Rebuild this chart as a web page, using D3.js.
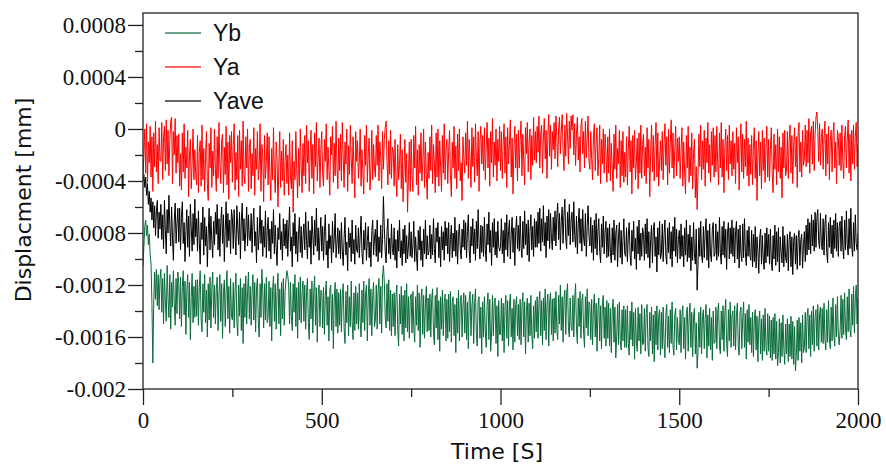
<!DOCTYPE html>
<html>
<head>
<meta charset="utf-8">
<script src="https://cdn.jsdelivr.net/npm/d3@7"></script>
<style>
  body { margin: 0; background: #fff; }
  svg { display: block; }
  .axisTitle { font-family: "DejaVu Sans", sans-serif; font-size: 22px; fill: #111; }
  .legend text { font-family: "Liberation Sans", Arial, sans-serif; font-size: 23px; fill: #111; }
</style>
</head>
<body>
<svg id="chart" width="886" height="466"></svg>
<script>
/* ==== Data (displacement in units of 1e-4 mm, one sample every 2.5 s, 50 s per row) ==== */
const T_STEP = 2.5;
const UNIT = 1e-4;

const ya = [
  -3.8, -1.9, 0.0, -3.4, 0.4, -4.1, -1.0, -2.6, 0.2, -3.7, -0.6, -4.8, -0.3, -2.9, 0.6, -3.3, -1.2, -4.2, 0.1, -2.4,
  -2.5, 0.5, -3.9, -0.6, 0.2, -3.2, 0.7, -2.7, -0.1, -3.6, -0.9, 0.6, 0.9, -4.2, -0.2, -2.0, 0.8, -3.4, -0.5, -2.6,
  -0.4, -4.4, -1.9, -4.7, -0.3, -3.3, 0.4, -3.8, -1.4, -3.0, -0.1, -5.2, -2.0, -0.8, -4.6, -2.6, 0.0, -3.9, -1.6, -3.5,
  -4.3, -0.5, -4.9, -1.8, -0.9, -4.4, 0.3, -3.9, -1.5, -4.8, -2.1, -0.2, -4.2, -5.5, -1.1, -3.0, 0.1, -4.5, -1.7, -3.6,
  0.0, -3.1, -4.8, -0.6, -3.8, 0.5, -2.7, -4.2, -0.9, -0.4, -4.9, -1.4, -3.5, 0.2, -4.3, -1.0, -5.4, -0.5, -2.6, -0.2,
  -4.1, -1.2, 0.4, -4.7, -1.8, -3.9, -0.5, -5.2, -0.1, -3.1, -0.9, -4.4, 0.6, -3.5, -4.2, -0.6, -3.0, 0.0, -4.8, -1.4,
  -0.8, -4.6, -1.9, -3.6, 0.1, -5.1, -1.5, -3.1, -0.2, -3.9, -3.0, 0.4, -4.8, -1.2, -2.0, -5.6, -0.5, -3.8, -2.6, -0.3,
  -4.3, -0.6, -3.5, -5.5, -1.5, -3.9, 0.1, -3.5, -4.9, -1.0, -2.3, -6.0, -2.8, -0.2, -4.5, -1.7, -4.0, -0.8, -5.1, -2.4,
  -1.2, -4.2, -2.0, -5.1, -0.3, -3.6, -4.6, -0.9, -6.4, -2.5, -3.9, -0.2, -3.1, -5.3, -1.5, -4.4, 0.0, -2.9, -4.9, -1.1,
  -3.6, -0.5, -4.2, 0.3, -2.6, -0.9, -4.8, -1.9, -0.1, -3.8, -1.2, -5.0, -0.3, -2.9, 0.5, -4.0, -2.2, -0.7, -4.5, -1.6,
  -0.2, -3.5, -4.4, -0.8, -2.5, 0.4, -3.9, -1.4, -3.1, -5.1, -0.6, -2.0, 0.2, -4.1, -1.1, -3.6, 0.6, -2.8, -4.6, -0.7,
  -3.2, -0.4, -4.0, 0.5, -2.1, -4.5, -1.0, -2.7, 0.0, -4.8, -1.3, -3.5, 0.3, -2.3, -4.2, -0.6, -2.9, -5.3, -0.2, -2.5,
  -0.9, -3.8, -2.6, 0.0, -4.4, -1.6, -3.3, -5.0, -0.5, -2.8, 0.3, -4.1, -2.0, -0.7, -4.7, -3.1, -0.1, -3.9, -1.2, -3.0,
  -3.7, -0.5, -2.8, 0.3, -4.0, -1.0, -2.2, -4.6, -0.2, -3.1, -0.8, 0.1, 0.6, -2.5, -4.3, -0.9, -3.5, -0.1, -3.8, -1.4,
  -1.7, -4.4, -0.8, -3.7, -5.2, -1.2, -3.9, -2.8, -0.4, -4.6, -1.6, -5.6, -3.2, -0.8, -4.1, -1.9, -6.4, -3.6, -1.0, -4.8,
  -0.8, -3.6, -4.8, -0.5, -3.0, 0.2, -4.3, -1.6, -5.1, -1.2, -3.4, -0.3, -4.0, -2.7, 0.0, -4.5, -1.0, -3.5, -5.4, -1.8,
  -3.8, -0.6, -3.2, 0.3, -4.2, -1.2, -2.6, -4.9, -0.3, -3.7, 0.0, -4.4, -0.9, -2.9, -4.8, -0.5, -3.4, 0.4, -3.9, -1.6,
  -0.8, -4.2, -1.7, -0.1, -3.5, -5.2, -1.0, -3.0, 0.2, -3.8, -1.3, -4.6, -0.4, -3.2, 0.0, -4.0, -2.6, -5.5, -0.6, -2.3,
  -3.4, -0.3, -2.8, 0.6, -3.8, -0.8, -2.4, -4.5, 0.1, -2.9, -0.6, -4.1, 0.4, -2.2, -3.6, -0.2, -4.8, -1.0, 0.2, -2.7,
  -0.5, -3.2, 0.1, -3.9, -1.4, 0.5, -3.0, -0.7, -4.4, -0.2, -2.6, 0.8, -3.7, -1.0, -2.8, 0.0, -4.0, -0.8, -2.5, 0.2,
  -3.2, -0.2, -3.8, -1.0, 0.4, -3.4, -0.6, -4.5, 0.1, -2.7, -1.2, 0.7, -3.7, -0.7, -5.0, -1.5, 0.2, -3.0, -0.4, -4.0,
  -0.1, -3.0, -0.8, 0.6, -3.6, -0.4, -2.5, -4.3, 0.1, -1.9, 0.5, -3.3, -1.0, 0.0, -3.9, -0.5, -2.8, 0.9, -2.4, -0.2,
  -2.6, 0.2, -1.8, 1.0, -3.0, -0.3, 0.3, -3.4, -0.7, 0.8, -2.3, -0.1, -3.8, -0.5, 1.1, -2.1, 0.3, -3.1, -0.2, -1.6,
  0.5, -2.3, 1.0, -0.5, -2.9, 0.0, 0.9, -1.9, -0.2, 1.1, -1.6, -3.2, 0.3, -2.1, 1.2, -0.4, -2.7, 0.6, -1.5, 1.0,
  -0.1, 1.1, -2.0, 0.4, -2.8, -0.4, 0.9, -2.4, -0.6, -3.3, 0.2, 0.8, -1.9, -0.2, -3.0, 0.6, -2.2, -0.7, 1.0, -2.5,
  -3.1, -0.2, -2.3, -3.9, -0.5, 0.4, -3.2, -1.0, 0.1, -3.6, -2.2, 0.3, -4.2, -0.8, -2.7, 0.0, -3.4, -0.4, -1.8, -4.1,
  -0.6, -3.4, 0.0, -4.0, -1.1, -3.0, -4.8, -0.4, -3.1, 0.3, -3.8, -1.5, -2.7, -0.1, -4.5, -0.9, -3.6, -0.2, -4.1, -1.8,
  -3.7, -0.6, -4.3, -1.6, 0.2, -3.3, -0.9, -5.0, -0.5, -3.0, -0.1, -3.9, -2.6, -0.7, -4.6, -0.3, -3.4, 0.3, -3.8, -1.2,
  -0.4, -3.6, -1.4, -4.2, 0.1, -3.0, -0.8, -5.2, -1.9, 0.3, -3.3, -0.5, -4.0, -1.2, 0.5, -3.7, -0.3, -4.4, -2.5, -0.9,
  -3.2, -0.2, -3.9, -1.1, 0.4, -2.8, -0.6, -4.3, 0.0, -3.4, -1.0, 0.7, -3.0, -0.3, -3.8, -1.6, 0.2, -3.6, -0.7, -2.5,
  -0.6, -3.8, -1.7, 0.1, -4.4, -1.0, -3.3, -5.0, -0.5, -3.0, 0.2, -4.1, -1.4, -3.6, -0.3, -4.6, -1.8, -0.8, -5.3, -2.9,
  -6.2, -3.5, -0.4, -2.9, 0.3, -3.9, -0.9, -3.1, -0.1, -4.4, -0.7, -2.6, 0.5, -3.4, -1.2, -4.1, -0.2, -2.8, 0.1, -3.7,
  -0.5, -3.3, 0.2, -2.6, -4.3, -0.3, -3.0, 0.5, -3.7, -0.8, -4.9, -1.4, 0.0, -3.2, -0.5, -3.9, 0.3, -2.7, -0.9, -3.6,
  -0.2, -3.1, -1.1, -4.2, 0.1, -2.6, -0.6, -4.7, -1.5, 0.4, -3.3, -0.4, -3.8, -0.8, -2.9, 0.6, -3.6, -0.7, -4.4, -1.2,
  -3.5, -0.5, -4.3, -1.4, 0.1, -3.8, -0.9, -5.5, -2.0, -0.2, -3.6, -1.0, -4.6, -0.1, -3.2, -0.7, -4.1, -1.6, 0.2, -3.7,
  -0.8, -4.0, -1.6, 0.1, -3.4, -4.9, -0.4, -3.1, -1.2, -4.3, 0.0, -3.3, -0.6, -3.8, -1.4, -5.3, -0.3, -3.0, -0.1, -3.6,
  -3.2, -0.2, -3.8, -0.9, 0.3, -3.4, -0.5, -4.2, -1.3, 0.1, -2.9, -0.6, -4.5, -0.3, 0.5, -3.3, -1.0, -3.7, -0.1, -2.8,
  -2.3, 0.3, -2.9, -0.1, -2.6, 0.8, -3.4, -0.3, 0.2, -2.7, 0.6, -3.2, -0.4, 0.9, 1.3, -0.1, -2.5, 0.4, -2.8, -0.6,
  0.0, -3.1, -0.7, 0.6, -3.6, -0.4, -2.7, 0.2, -3.9, -0.9, -0.1, -3.3, -0.5, 0.5, -3.0, -1.0, -4.2, -0.1, -0.6, -2.8,
  -0.3, -3.2, 0.3, -2.6, -3.8, -0.5, 0.2, -3.0, -0.8, 0.7, -3.4, -0.4, -4.0, -0.1, -2.7, 0.3, -3.1, -0.6, 0.5, -2.9,
  -1.2
];

const yave = [
  -4.0, -3.5, -4.5, -3.7, -5.1, -4.2, -5.8, -4.8, -6.4, -5.3, -7.0, -5.6, -7.6, -5.9, -8.2, -6.3, -5.5, -8.4, -6.4, -7.7,
  -5.8, -8.5, -6.6, -9.2, -5.5, -7.8, -9.6, -6.2, -8.0, -5.1, -7.5, -9.0, -6.0, -8.4, -10.1, -7.0, -5.7, -8.8, -7.3, -6.1,
  -8.7, -6.1, -9.3, -6.8, -5.6, -8.8, -7.2, -10.2, -7.9, -6.2, -9.1, -6.7, -9.8, -5.8, -7.6, -9.4, -6.5, -8.9, -5.4, -8.3,
  -6.9, -9.4, -6.3, -8.7, -10.4, -7.2, -8.5, -6.0, -9.7, -6.8, -9.0, -7.5, -10.6, -8.0, -6.1, -9.3, -6.7, -8.6, -9.9, -7.1,
  -8.9, -6.4, -8.1, -5.8, -9.3, -6.9, -9.8, -7.2, -6.0, -8.8, -6.6, -10.2, -7.8, -5.6, -9.1, -6.5, -8.6, -7.0, -9.6, -6.2,
  -6.8, -9.2, -6.2, -8.2, -9.7, -5.9, -7.6, -8.9, -6.4, -10.0, -7.1, -5.7, -8.6, -6.9, -9.4, -7.8, -6.0, -9.0, -6.6, -8.4,
  -8.6, -6.5, -9.5, -7.2, -6.1, -9.0, -7.9, -10.3, -6.8, -9.3, -8.2, -5.9, -8.8, -7.0, -9.8, -7.5, -9.1, -6.3, -9.9, -7.8,
  -6.8, -9.4, -7.7, -10.0, -7.1, -8.8, -6.2, -9.6, -7.4, -9.1, -10.5, -7.6, -8.5, -6.5, -9.3, -7.9, -10.1, -6.9, -9.0, -7.3,
  -9.2, -7.0, -9.8, -7.7, -6.0, -9.4, -8.3, -10.6, -7.2, -9.0, -6.5, -9.6, -7.9, -10.2, -8.1, -6.8, -9.5, -7.5, -9.9, -8.4,
  -7.3, -9.3, -6.4, -8.6, -10.0, -7.1, -9.1, -7.8, -10.4, -6.7, -8.2, -9.7, -7.0, -9.0, -6.1, -9.4, -7.6, -10.1, -8.3, -6.8,
  -9.4, -7.5, -10.1, -7.9, -6.6, -9.7, -8.6, -10.7, -7.3, -9.2, -8.2, -10.3, -7.1, -9.5, -8.4, -6.5, -9.9, -8.8, -7.6, -9.6,
  -7.8, -10.0, -7.2, -9.3, -10.5, -8.4, -6.8, -9.7, -8.7, -10.9, -7.6, -9.1, -8.0, -10.2, -7.0, -9.6, -8.5, -10.4, -7.4, -9.3,
  -9.5, -7.6, -9.9, -8.2, -6.7, -9.6, -10.4, -7.8, -9.3, -7.2, -10.1, -8.6, -7.5, -9.9, -8.7, -10.6, -7.9, -7.0, -9.7, -8.4,
  -7.7, -9.8, -7.0, -10.2, -8.3, -9.5, -7.4, -9.9, -8.5, -5.2, -7.6, -9.4, -10.3, -7.9, -6.9, -9.6, -8.4, -10.0, -7.3, -9.2,
  -9.7, -7.6, -10.1, -8.5, -10.7, -7.8, -9.4, -7.0, -9.9, -8.6, -10.5, -7.7, -9.6, -7.4, -10.3, -8.2, -10.0, -9.0, -7.2, -9.8,
  -7.9, -9.9, -9.0, -7.1, -10.2, -8.3, -9.7, -10.9, -7.8, -9.3, -7.5, -10.1, -8.6, -10.6, -7.7, -9.6, -7.0, -10.0, -8.2, -9.7,
  -9.4, -7.4, -10.0, -8.1, -9.7, -6.9, -9.2, -10.3, -7.6, -8.7, -7.2, -9.9, -8.3, -10.6, -7.5, -9.3, -7.9, -10.1, -7.1, -9.0,
  -7.6, -9.6, -7.2, -10.2, -8.5, -7.4, -9.9, -8.0, -9.4, -6.8, -9.8, -7.8, -10.4, -8.2, -7.3, -9.3, -10.0, -7.7, -9.1, -7.0,
  -9.3, -7.2, -9.9, -7.9, -6.6, -9.4, -10.3, -7.5, -9.0, -6.9, -9.6, -7.7, -10.1, -7.1, -9.2, -6.2, -8.8, -10.0, -7.4, -9.5,
  -7.5, -9.8, -6.8, -9.3, -10.2, -7.3, -8.9, -6.4, -9.5, -7.8, -10.5, -7.2, -9.1, -6.9, -9.7, -7.9, -9.9, -7.1, -9.0, -9.4,
  -9.1, -6.9, -9.6, -7.8, -10.3, -7.2, -9.3, -6.6, -9.8, -7.9, -7.0, -10.0, -8.1, -6.8, -9.5, -7.6, -10.5, -7.8, -6.7, -9.2,
  -7.4, -9.4, -6.7, -9.0, -9.9, -7.1, -9.2, -6.3, -8.9, -7.3, -9.7, -7.0, -10.2, -7.9, -6.6, -9.3, -7.5, -9.8, -6.9, -9.1,
  -7.1, -9.1, -6.4, -8.8, -6.1, -9.4, -6.9, -8.7, -5.9, -9.0, -7.2, -9.9, -6.7, -8.6, -6.2, -9.2, -6.5, -8.4, -9.3, -6.8,
  -8.6, -6.3, -9.0, -6.7, -5.7, -8.5, -6.5, -9.3, -7.1, -6.0, -8.8, -6.6, -5.4, -8.4, -9.2, -6.4, -8.2, -5.8, -8.9, -7.0,
  -6.4, -8.7, -5.6, -8.2, -9.1, -6.7, -9.6, -7.3, -6.1, -8.8, -6.9, -9.4, -6.2, -8.4, -9.0, -6.5, -9.8, -7.5, -5.9, -8.2,
  -9.0, -6.8, -9.5, -7.4, -10.1, -7.0, -9.2, -6.5, -9.7, -7.8, -6.9, -9.4, -10.3, -7.3, -9.1, -6.7, -9.6, -7.9, -7.1, -9.9,
  -7.6, -9.8, -7.3, -9.5, -10.3, -7.6, -9.7, -7.0, -10.1, -8.0, -7.4, -10.6, -8.3, -7.2, -9.9, -7.8, -10.4, -8.6, -6.9, -9.6,
  -9.8, -7.6, -10.2, -8.2, -7.2, -9.7, -10.5, -7.8, -9.4, -7.1, -10.0, -8.4, -10.8, -7.5, -9.6, -7.0, -10.1, -8.0, -9.8, -7.6,
  -8.1, -10.1, -7.3, -9.6, -6.9, -9.9, -7.9, -10.7, -8.5, -7.4, -10.3, -7.8, -7.2, -9.8, -8.3, -11.0, -7.6, -9.7, -7.1, -10.0,
  -9.6, -7.3, -10.2, -8.1, -7.0, -9.7, -10.4, -7.6, -9.5, -7.2, -10.0, -7.9, -10.6, -7.5, -9.4, -6.8, -9.8, -7.7, -10.3, -8.5,
  -7.8, -10.0, -7.3, -9.8, -8.2, -10.6, -7.6, -9.7, -7.0, -10.2, -8.1, -9.9, -7.4, -10.9, -8.3, -10.1, -7.2, -9.6, -10.4, -7.7,
  -12.4, -10.4, -7.6, -9.8, -7.1, -9.7, -10.3, -7.5, -9.9, -8.0, -6.9, -10.1, -7.8, -10.7, -7.3, -9.6, -10.2, -7.7, -7.2, -9.8,
  -9.6, -7.3, -10.1, -7.9, -9.8, -6.8, -9.5, -10.4, -7.5, -9.7, -7.1, -9.9, -7.7, -10.8, -8.0, -7.2, -10.0, -7.6, -9.6, -7.0,
  -9.8, -7.6, -10.3, -7.9, -7.1, -10.0, -7.7, -10.7, -7.4, -9.6, -10.2, -7.3, -9.9, -6.9, -9.5, -10.5, -7.8, -9.8, -7.5, -9.7,
  -10.1, -7.8, -10.6, -8.1, -10.2, -7.5, -10.7, -8.3, -9.4, -11.1, -8.4, -7.7, -10.4, -8.2, -10.0, -10.8, -8.0, -10.3, -7.6, -9.8,
  -8.1, -10.4, -7.7, -10.1, -10.9, -8.2, -10.0, -7.4, -10.5, -7.9, -10.2, -7.6, -11.0, -8.3, -9.5, -10.3, -7.5, -10.6, -8.2, -9.9,
  -10.3, -8.1, -10.9, -8.5, -7.9, -10.6, -8.3, -11.2, -8.6, -8.0, -10.4, -8.2, -10.8, -8.4, -7.8, -10.5, -8.5, -8.1, -10.7, -8.9,
  -7.9, -10.2, -7.4, -9.7, -6.9, -9.3, -7.2, -9.6, -6.6, -9.0, -7.0, -9.4, -6.4, -9.1, -6.8, -6.2, -8.6, -9.2, -6.5, -8.8,
  -9.3, -6.9, -9.7, -7.3, -6.6, -9.5, -10.3, -7.2, -9.1, -6.8, -9.6, -7.4, -9.9, -7.0, -9.2, -6.5, -9.4, -7.2, -9.8, -7.5,
  -7.1, -9.4, -6.7, -9.1, -10.0, -7.0, -9.3, -6.3, -8.9, -9.7, -6.9, -9.2, -6.1, -9.0, -9.8, -7.2, -9.4, -6.6, -8.8, -9.3,
  -8.0
];

const yb = [
  -10.5, -9.0, -7.5, -7.0, -8.2, -7.4, -8.9, -8.1, -9.6, -10.4, -13.5, -18.0, -13.4, -11.0, -13.1, -10.8, -13.6, -11.2, -13.9, -11.6,
  -10.8, -14.1, -11.5, -15.0, -11.1, -13.3, -14.8, -10.5, -13.0, -14.5, -11.2, -15.4, -11.8, -13.7, -10.9, -13.4, -15.1, -11.5, -14.2, -11.0,
  -11.9, -14.6, -11.4, -15.2, -12.2, -10.9, -14.3, -11.7, -15.8, -12.5, -11.2, -14.5, -11.8, -16.2, -12.9, -11.1, -14.9, -12.1, -14.5, -11.6,
  -14.4, -11.6, -15.1, -12.2, -10.9, -14.6, -15.6, -11.9, -14.1, -11.2, -14.9, -12.4, -16.0, -11.9, -14.7, -11.4, -15.3, -12.3, -11.0, -14.5,
  -12.0, -15.0, -12.3, -11.4, -15.5, -12.7, -11.2, -14.8, -11.9, -16.1, -12.6, -11.6, -15.2, -12.4, -10.9, -14.6, -12.1, -15.7, -11.5, -14.4,
  -14.7, -11.8, -15.3, -12.4, -11.1, -14.8, -15.9, -12.0, -14.4, -11.5, -15.5, -12.2, -16.5, -11.9, -14.5, -11.3, -15.0, -12.5, -11.0, -14.6,
  -12.1, -15.1, -12.6, -11.2, -14.7, -11.8, -15.6, -12.3, -11.5, -14.8, -16.0, -11.9, -14.5, -10.8, -12.4, -15.3, -11.9, -14.7, -11.4, -14.9,
  -14.5, -11.7, -15.2, -12.2, -16.3, -12.4, -11.3, -14.8, -11.9, -15.4, -12.6, -11.1, -15.0, -12.3, -15.9, -11.8, -14.6, -11.5, -15.1, -12.5,
  -11.6, -10.9, -11.3, -12.0, -15.0, -11.8, -14.4, -15.5, -11.9, -14.1, -11.2, -15.2, -12.2, -16.1, -11.8, -14.7, -11.4, -14.9, -12.6, -11.7,
  -14.8, -12.0, -15.4, -12.5, -11.5, -14.9, -16.2, -12.3, -14.6, -11.7, -15.7, -12.6, -11.3, -15.1, -12.2, -16.4, -12.8, -12.0, -15.2, -12.4,
  -12.5, -15.3, -12.2, -15.8, -12.8, -11.7, -15.1, -12.9, -16.3, -12.4, -12.0, -15.5, -12.7, -16.9, -13.0, -11.8, -15.2, -12.3, -15.7, -12.6,
  -15.1, -12.3, -15.6, -12.7, -11.9, -15.3, -16.5, -12.5, -14.9, -12.0, -15.9, -12.9, -15.2, -11.7, -14.8, -16.2, -12.6, -15.5, -12.1, -15.0,
  -12.6, -15.4, -11.9, -14.8, -16.0, -12.4, -14.9, -11.7, -15.5, -12.7, -12.0, -16.3, -12.9, -11.5, -15.1, -12.3, -15.9, -12.8, -11.8, -15.2,
  -14.7, -12.0, -15.4, -12.5, -11.5, -15.0, -12.1, -15.7, -11.3, -10.5, -11.8, -14.5, -15.3, -11.9, -14.8, -11.6, -15.5, -12.4, -15.9, -12.7,
  -15.2, -12.6, -15.9, -12.9, -12.0, -15.5, -16.7, -12.7, -15.0, -12.1, -15.8, -12.8, -16.3, -12.4, -15.3, -11.9, -15.6, -12.9, -16.1, -13.2,
  -12.7, -15.7, -12.5, -15.3, -16.4, -12.9, -15.1, -12.0, -15.5, -12.6, -16.8, -13.2, -12.3, -15.8, -12.8, -16.1, -13.4, -12.1, -15.6, -13.0,
  -15.5, -12.7, -16.0, -13.1, -12.3, -15.7, -16.6, -12.8, -15.3, -12.2, -16.2, -13.2, -17.1, -12.9, -15.4, -12.4, -15.9, -13.4, -12.7, -16.3,
  -13.1, -16.1, -12.7, -15.6, -12.5, -16.4, -13.3, -12.9, -15.9, -13.5, -17.2, -13.0, -15.7, -12.4, -16.3, -13.2, -12.8, -16.0, -13.6, -12.6,
  -15.7, -12.8, -16.2, -13.3, -16.9, -13.1, -12.5, -15.9, -13.6, -12.7, -16.5, -13.4, -12.3, -15.8, -16.7, -13.2, -12.9, -16.1, -13.7, -17.3,
  -13.3, -16.0, -12.9, -15.6, -16.8, -13.5, -12.6, -16.2, -13.1, -17.1, -15.7, -12.8, -15.9, -13.4, -13.0, -16.5, -13.6, -17.5, -13.2, -15.8,
  -15.8, -13.0, -16.3, -13.4, -17.2, -13.7, -12.8, -16.1, -13.2, -16.7, -13.6, -12.7, -16.0, -13.8, -17.0, -13.1, -16.4, -13.5, -12.9, -15.9,
  -13.5, -16.2, -13.1, -16.6, -13.7, -12.6, -16.0, -13.3, -17.3, -13.9, -13.0, -16.4, -13.4, -15.9, -12.8, -15.8, -16.9, -13.6, -16.1, -13.2,
  -15.6, -12.9, -16.1, -13.4, -12.5, -15.9, -13.2, -16.6, -13.0, -15.5, -12.3, -16.2, -13.5, -12.7, -16.7, -13.3, -12.6, -15.8, -13.1, -16.3,
  -13.0, -15.7, -12.5, -15.4, -16.2, -12.8, -15.0, -12.0, -15.5, -12.9, -16.4, -13.1, -12.4, -15.8, -12.7, -11.9, -15.3, -16.0, -13.0, -15.2,
  -15.5, -12.8, -16.0, -13.1, -11.9, -15.4, -16.5, -13.0, -15.2, -12.5, -16.1, -13.2, -12.7, -15.7, -16.8, -12.9, -15.3, -12.3, -15.9, -13.3,
  -13.5, -16.2, -13.1, -16.6, -13.8, -12.7, -16.0, -13.4, -17.1, -13.9, -13.0, -16.3, -13.6, -16.9, -13.3, -12.8, -16.1, -13.7, -16.7, -13.2,
  -16.1, -13.4, -16.7, -13.8, -17.2, -14.0, -13.1, -16.4, -13.7, -17.6, -16.0, -13.5, -16.6, -13.3, -16.2, -17.0, -13.9, -16.3, -13.6, -16.8,
  -13.9, -16.8, -13.6, -16.5, -17.4, -14.0, -16.2, -13.3, -16.7, -14.1, -17.7, -13.8, -16.4, -17.1, -13.7, -16.3, -14.2, -17.3, -13.5, -16.6,
  -16.5, -13.8, -17.1, -14.2, -13.5, -16.8, -17.5, -14.1, -16.3, -13.7, -17.3, -14.3, -17.9, -14.0, -16.6, -13.6, -17.0, -14.4, -13.9, -17.4,
  -14.1, -16.9, -13.7, -16.4, -17.6, -14.2, -13.5, -16.8, -14.4, -17.2, -13.9, -16.5, -13.3, -16.7, -17.4, -14.3, -13.8, -17.0, -14.5, -16.2,
  -16.6, -13.9, -17.2, -14.3, -13.6, -16.9, -14.5, -17.7, -14.2, -13.7, -17.1, -14.6, -13.4, -16.8, -14.1, -17.5, -14.4, -13.8, -17.3, -14.9,
  -18.4, -17.1, -14.1, -16.8, -13.7, -17.3, -14.4, -13.9, -16.9, -14.6, -13.5, -17.6, -14.3, -16.7, -13.8, -17.0, -14.5, -17.8, -14.0, -16.5,
  -16.4, -13.7, -16.9, -14.1, -13.4, -16.7, -17.3, -14.0, -16.2, -13.6, -17.1, -14.2, -13.1, -16.5, -17.5, -13.9, -16.3, -13.3, -16.8, -14.3,
  -14.0, -16.7, -13.6, -17.0, -14.3, -13.4, -16.6, -17.4, -14.1, -13.7, -16.9, -14.5, -13.3, -16.8, -14.2, -17.7, -13.9, -16.4, -13.5, -16.6,
  -14.5, -17.2, -14.1, -17.5, -14.7, -13.9, -17.0, -14.4, -17.9, -14.9, -14.0, -17.3, -14.6, -17.8, -14.3, -17.1, -13.8, -16.8, -17.4, -14.2,
  -17.1, -14.4, -17.6, -14.7, -17.8, -14.5, -17.3, -14.2, -17.7, -14.8, -18.2, -17.2, -14.6, -18.0, -14.9, -17.5, -14.3, -16.9, -18.1, -15.0,
  -17.3, -14.6, -17.9, -15.0, -17.5, -14.4, -17.7, -14.8, -18.1, -15.2, -18.6, -17.4, -14.7, -17.8, -14.5, -17.1, -14.9, -18.0, -14.3, -17.2,
  -16.8, -14.1, -17.2, -14.5, -13.8, -16.9, -14.3, -17.5, -14.0, -16.6, -13.6, -17.1, -14.4, -13.9, -16.7, -13.5, -17.0, -14.2, -13.7, -16.4,
  -13.8, -16.5, -13.4, -16.2, -17.0, -13.9, -16.4, -13.2, -16.1, -16.9, -13.7, -16.3, -13.0, -15.9, -16.7, -13.5, -16.0, -12.9, -15.8, -16.6,
  -15.5, -12.8, -16.1, -13.1, -15.8, -12.6, -15.3, -16.2, -12.9, -15.6, -12.3, -15.4, -16.0, -12.7, -15.1, -12.1, -15.7, -13.0, -12.0, -15.0,
  -13.0
];

const seriesNames = ["Yb", "Ya", "Yave"];
const seriesColors = ["#0a6b3a", "#ff0000", "#000000"];
const seriesValues = [yb, ya, yave];

const xTicks = [0, 500, 1000, 1500, 2000];
const xMinorTicks = [250, 750, 1250, 1750];
const yTicks = [-0.002, -0.0016, -0.0012, -0.0008, -0.0004, 0, 0.0004, 0.0008];
const yMinorTicks = [-0.0018, -0.0014, -0.001, -0.0006, -0.0002, 0.0002, 0.0006];

/* ==== Layout ==== */
const LEFT = 143, RIGHT = 858, TOP = 13, BOTTOM = 389;
const TICK_FONT = "Liberation Serif, serif";

const svg = d3.select("#chart");
const x = d3.scaleLinear().domain([0, 2000]).range([LEFT, RIGHT]);
const y = d3.scaleLinear().domain([-0.002, 0.000892]).range([BOTTOM, TOP]);

// "0.0008", "-0.002", "0" - plain hyphen, trailing zeros trimmed
function fmtY(v) {
  let s = Math.abs(v).toFixed(4).replace(/0+$/, "").replace(/\.$/, "");
  return (v < 0 ? "-" : "") + s;
}

function styleAxis(g) {
  g.attr("font-family", TICK_FONT).attr("font-size", 23);
  g.select(".domain").remove();
  g.selectAll(".tick line").attr("stroke", "#222").attr("stroke-width", 1.3);
  g.selectAll(".tick text").attr("fill", "#111");
}

/* ==== Axes ==== */
svg.append("g")
   .attr("transform", `translate(${LEFT},0)`)
   .call(d3.axisLeft(y).tickValues(yMinorTicks).tickSize(8).tickFormat(""))
   .call(styleAxis);

svg.append("g")
   .attr("transform", `translate(${LEFT},0)`)
   .call(d3.axisLeft(y).tickValues(yTicks).tickSize(15).tickPadding(2).tickFormat(fmtY))
   .call(styleAxis);

svg.append("g")
   .attr("transform", `translate(0,${BOTTOM})`)
   .call(d3.axisBottom(x).tickValues(xMinorTicks).tickSize(8).tickFormat(""))
   .call(styleAxis);

svg.append("g")
   .attr("transform", `translate(0,${BOTTOM})`)
   .call(d3.axisBottom(x).tickValues(xTicks).tickSize(16).tickPadding(7).tickFormat(d3.format("d")))
   .call(styleAxis);

/* ==== Lines ==== */
svg.append("clipPath").attr("id", "plotClip")
   .append("rect")
   .attr("x", LEFT).attr("y", TOP)
   .attr("width", RIGHT - LEFT).attr("height", BOTTOM - TOP);

const line = d3.line()
  .x((d, i) => x(i * T_STEP))
  .y(d => y(d * UNIT));

const plot = svg.append("g").attr("clip-path", "url(#plotClip)");
[2, 1, 0].forEach(k => {
  plot.append("path")
      .datum(seriesValues[k])
      .attr("fill", "none")
      .attr("stroke", seriesColors[k])
      .attr("stroke-width", 1)
      .attr("stroke-linejoin", "round")
      .attr("d", line);
});

// frame
svg.append("rect")
   .attr("x", LEFT).attr("y", TOP)
   .attr("width", RIGHT - LEFT).attr("height", BOTTOM - TOP)
   .attr("fill", "none")
   .attr("stroke", "#222")
   .attr("stroke-width", 1.3);

/* ==== Legend ==== */
const legend = svg.append("g").attr("class", "legend")
  .selectAll("g")
  .data(seriesNames)
  .enter()
  .append("g")
  .attr("transform", (d, i) => `translate(165,${33 + i * 34})`);

legend.append("line")
      .attr("x1", 0).attr("x2", 36)
      .attr("y1", 0).attr("y2", 0)
      .attr("stroke", (d, i) => seriesColors[i])
      .attr("stroke-opacity", 0.8)
      .attr("stroke-width", 1.3);

legend.append("text")
      .attr("x", 48)
      .attr("dy", "0.36em")
      .text(d => d);

/* ==== Titles ==== */
svg.append("text")
   .attr("class", "axisTitle")
   .attr("text-anchor", "middle")
   .attr("transform", `translate(31,200) rotate(-90)`)
   .text("Displacment [mm]");

svg.append("text")
   .attr("class", "axisTitle")
   .attr("text-anchor", "middle")
   .attr("x", 497)
   .attr("y", 459)
   .text("Time [S]");
</script>
</body>
</html>
